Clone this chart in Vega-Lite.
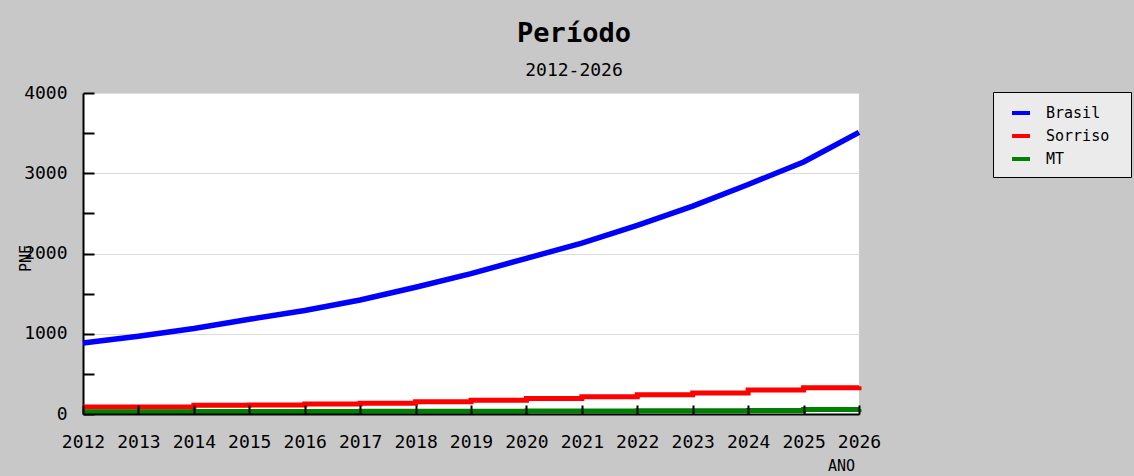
{
  "$schema": "https://vega.github.io/schema/vega-lite/v6.json",
  "autosize": {"type": "none"},
  "padding": {"left": 83, "top": 93, "right": 275, "bottom": 62},
  "width": 776,
  "height": 321,
  "background": "#c8c8c8",
  "title": {
    "text": "Período",
    "subtitle": "2012-2026",
    "anchor": "middle",
    "frame": "group",
    "dx": 103,
    "offset": 3,
    "font": "DejaVu Sans Mono",
    "fontSize": 27,
    "fontWeight": "bold",
    "color": "#000000",
    "subtitleFont": "DejaVu Sans Mono",
    "subtitleFontSize": 18,
    "subtitleColor": "#000000",
    "subtitlePadding": 14
  },
  "config": {
    "view": {"fill": "#ffffff", "stroke": null},
    "axis": {
      "labelFont": "DejaVu Sans Mono",
      "labelFontSize": 18,
      "labelColor": "#000000",
      "titleFont": "DejaVu Sans Mono",
      "titleFontWeight": "normal",
      "titleColor": "#000000",
      "domainColor": "#000000",
      "domainWidth": 2,
      "tickColor": "#000000",
      "tickWidth": 2
    },
    "legend": {
      "labelFont": "DejaVu Sans Mono",
      "labelFontSize": 15,
      "labelColor": "#000000"
    }
  },
  "data": {
    "values": [
      {"ano": 2012, "serie": "Brasil", "pne": 885},
      {"ano": 2013, "serie": "Brasil", "pne": 970},
      {"ano": 2014, "serie": "Brasil", "pne": 1065},
      {"ano": 2015, "serie": "Brasil", "pne": 1180},
      {"ano": 2016, "serie": "Brasil", "pne": 1290},
      {"ano": 2017, "serie": "Brasil", "pne": 1420},
      {"ano": 2018, "serie": "Brasil", "pne": 1580},
      {"ano": 2019, "serie": "Brasil", "pne": 1750},
      {"ano": 2020, "serie": "Brasil", "pne": 1940},
      {"ano": 2021, "serie": "Brasil", "pne": 2130},
      {"ano": 2022, "serie": "Brasil", "pne": 2350},
      {"ano": 2023, "serie": "Brasil", "pne": 2590},
      {"ano": 2024, "serie": "Brasil", "pne": 2860},
      {"ano": 2025, "serie": "Brasil", "pne": 3140},
      {"ano": 2026, "serie": "Brasil", "pne": 3510},
      {"ano": 2012, "serie": "Sorriso", "pne": 87},
      {"ano": 2013, "serie": "Sorriso", "pne": 88},
      {"ano": 2014, "serie": "Sorriso", "pne": 110},
      {"ano": 2015, "serie": "Sorriso", "pne": 113},
      {"ano": 2016, "serie": "Sorriso", "pne": 125},
      {"ano": 2017, "serie": "Sorriso", "pne": 135},
      {"ano": 2018, "serie": "Sorriso", "pne": 152},
      {"ano": 2019, "serie": "Sorriso", "pne": 172},
      {"ano": 2020, "serie": "Sorriso", "pne": 192},
      {"ano": 2021, "serie": "Sorriso", "pne": 215},
      {"ano": 2022, "serie": "Sorriso", "pne": 240},
      {"ano": 2023, "serie": "Sorriso", "pne": 262},
      {"ano": 2024, "serie": "Sorriso", "pne": 300},
      {"ano": 2025, "serie": "Sorriso", "pne": 328},
      {"ano": 2026, "serie": "Sorriso", "pne": 345},
      {"ano": 2012, "serie": "MT", "pne": 28},
      {"ano": 2013, "serie": "MT", "pne": 28},
      {"ano": 2014, "serie": "MT", "pne": 30},
      {"ano": 2015, "serie": "MT", "pne": 30},
      {"ano": 2016, "serie": "MT", "pne": 32},
      {"ano": 2017, "serie": "MT", "pne": 33},
      {"ano": 2018, "serie": "MT", "pne": 34},
      {"ano": 2019, "serie": "MT", "pne": 35},
      {"ano": 2020, "serie": "MT", "pne": 37},
      {"ano": 2021, "serie": "MT", "pne": 38},
      {"ano": 2022, "serie": "MT", "pne": 40},
      {"ano": 2023, "serie": "MT", "pne": 42},
      {"ano": 2024, "serie": "MT", "pne": 44},
      {"ano": 2025, "serie": "MT", "pne": 56},
      {"ano": 2026, "serie": "MT", "pne": 60}
    ]
  },
  "encoding": {
    "x": {
      "field": "ano",
      "type": "quantitative",
      "scale": {"domain": [2012, 2026], "nice": false, "zero": false},
      "axis": {
        "title": "ANO",
        "titleX": 758,
        "titleY": 51,
        "titleAlign": "center",
        "titleBaseline": "middle",
        "titleFontSize": 15,
        "values": [2012, 2013, 2014, 2015, 2016, 2017, 2018, 2019, 2020, 2021, 2022, 2023, 2024, 2025, 2026],
        "format": "d",
        "tickSize": -9,
        "labelPadding": 28,
        "labelFlush": false,
        "labelOverlap": false,
        "grid": false,
        "zindex": 1
      }
    },
    "y": {
      "field": "pne",
      "type": "quantitative",
      "scale": {"domain": [0, 4000], "nice": false},
      "axis": {
        "title": "PNE",
        "titleX": -58,
        "titleY": 165,
        "titleAlign": "center",
        "titleBaseline": "middle",
        "titleFontSize": 15,
        "titleAngle": 270,
        "values": [0, 500, 1000, 1500, 2000, 2500, 3000, 3500, 4000],
        "labelExpr": "datum.value % 1000 === 0 ? datum.label : ''",
        "format": "d",
        "tickSize": -11,
        "labelPadding": 27,
        "labelFlush": false,
        "grid": true,
        "gridColor": "#dcdcdc",
        "gridOpacity": {"condition": {"test": "datum.value % 1000 === 0 && datum.value > 0", "value": 1}, "value": 0},
        "zindex": 0
      }
    },
    "color": {
      "field": "serie",
      "type": "nominal",
      "scale": {"domain": ["Brasil", "Sorriso", "MT"], "range": ["#0000ff", "#ff0000", "#008000"]},
      "legend": {
        "title": null,
        "orient": "none",
        "legendX": 910,
        "legendY": -1,
        "fillColor": "#ebebeb",
        "strokeColor": "#000000",
        "padding": 10,
        "symbolType": "stroke",
        "symbolSize": 324,
        "symbolStrokeWidth": 4,
        "symbolOffset": 7,
        "labelOffset": 14,
        "rowPadding": 4,
        "labelExpr": "datum.label + '\u2800'"
      }
    }
  },
  "layer": [
    {
      "transform": [{"filter": "datum.serie === 'Brasil'"}],
      "mark": {"type": "line", "strokeWidth": 5.5, "interpolate": "linear"}
    },
    {
      "transform": [{"filter": "datum.serie !== 'Brasil'"}],
      "mark": {"type": "line", "strokeWidth": 5, "interpolate": "step-after"}
    }
  ]
}
